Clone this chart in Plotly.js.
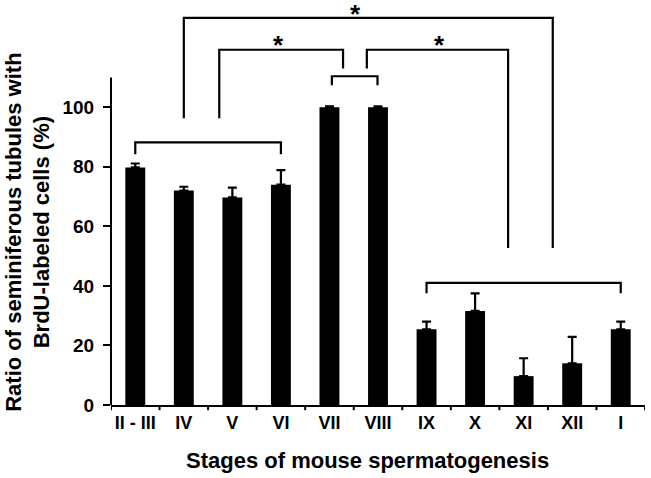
<!DOCTYPE html>
<html>
<head>
<meta charset="utf-8">
<script src="https://cdn.plot.ly/plotly-3.0.1.min.js"></script>
<style>
  html, body { margin: 0; padding: 0; background: #fff; }
  #chart { width: 651px; height: 478px; }
</style>
</head>
<body>
<div id="chart"></div>
<script>
"use strict"

// stages of the seminiferous epithelium cycle
let stages = ['II - III', 'IV', 'V', 'VI', 'VII', 'VIII', 'IX', 'X', 'XI', 'XII', 'I'];
// ratio of tubules with BrdU-labeled cells (%)
let ratio = [79.8, 72.0, 69.7, 74.0, 100, 100, 25.4, 31.6, 9.7, 14.0, 25.4];
// upper error (SEM)
let sem = [1.3, 1.3, 3.3, 4.9, 0.3, 0.3, 2.6, 5.9, 6.0, 8.9, 2.6];

// brackets: [x left, x right, top, left leg end, right leg end]
let brackets = [
	[0, 3, 88.2, 84.2, 84.2],
	[6, 10, 41, 37.5, 37.5],
	[4.05, 4.99, 110.4, 107.4, 107.4],
	[1.0, 8.6, 130, 96.3, 52.7],
	[1.73, 4.28, 119.3, 96.3, 113],
	[4.77, 7.68, 119.3, 113, 52.7]
];
// significance marks: [x, y]
let stars = [[4.53, 131.4], [2.95, 120.8], [6.26, 120.8]];

let fontFamily = 'Liberation Sans, Arial, sans-serif';

let trace = {
	type: 'bar',
	x: stages.map((s, i) => i),
	y: ratio,
	marker: {color: '#000', line: {width: 0}},
	width: 0.41,
	error_y: {
		type: 'data',
		symmetric: false,
		array: sem,
		arrayminus: sem.map(() => 0),
		color: '#000',
		thickness: 2.2,
		width: 4.5
	},
	hoverinfo: 'none'
};

let shapes = brackets.map(b => ({
	type: 'path',
	xref: 'x',
	yref: 'y',
	path: 'M' + b[0] + ',' + b[3] + ' L' + b[0] + ',' + b[2] + ' L' + b[1] + ',' + b[2] + ' L' + b[1] + ',' + b[4],
	line: {color: '#000', width: 2.2}
}));

// y axis line only up to 110
shapes.push({
	type: 'line',
	xref: 'paper', yref: 'y',
	x0: 0, x1: 0, y0: 0, y1: 110,
	line: {color: '#000', width: 2}
});

let annotations = stars.map(s => ({
	x: s[0], y: s[1], xref: 'x', yref: 'y',
	text: '*', showarrow: false,
	xanchor: 'center', yanchor: 'middle',
	font: {family: fontFamily, size: 26, weight: 'bold', color: '#000'}
}));

annotations.push({
	x: 0.48, y: -0.103, xref: 'paper', yref: 'paper',
	text: 'Stages of mouse spermatogenesis', showarrow: false,
	xanchor: 'center', yanchor: 'top',
	font: {family: fontFamily, size: 22, weight: 'bold', color: '#000'}
});

annotations.push({
	x: -0.157, y: 0.432, xref: 'paper', yref: 'paper',
	text: 'Ratio of seminiferous tubules with<br>BrdU-labeled cells (%)', showarrow: false,
	textangle: -90,
	xanchor: 'center', yanchor: 'middle',
	font: {family: fontFamily, size: 22, weight: 'bold', color: '#000'}
});

let layout = {
	width: 651,
	height: 478,
	margin: {l: 111, r: 6, t: 6, b: 73, pad: 0},
	paper_bgcolor: '#fff',
	plot_bgcolor: '#fff',
	showlegend: false,
	xaxis: {
		type: 'linear',
		range: [-0.5, 10.5],
		tickvals: stages.map((s, i) => i),
		ticktext: stages,
		showgrid: false,
		zeroline: false,
		showline: true,
		linecolor: '#000',
		linewidth: 2,
		ticks: '',
		tickfont: {family: fontFamily, size: 18, weight: 'bold', color: '#000'},
		fixedrange: true
	},
	yaxis: {
		range: [0, 134],
		tickvals: [0, 20, 40, 60, 80, 100],
		showgrid: false,
		zeroline: false,
		showline: false,
		ticks: 'outside',
		ticklen: 7,
		tickwidth: 2,
		tickcolor: '#000',
		ticklabelstandoff: 5,
		tickfont: {family: fontFamily, size: 19, weight: 'bold', color: '#000'},
		fixedrange: true
	},
	shapes: shapes,
	annotations: annotations
};

// boundary ticks on the x axis
for (let i = 0; i <= stages.length; i++) {
	layout.shapes.push({
		type: 'line',
		xref: 'x', yref: 'paper',
		x0: i - 0.5, x1: i - 0.5, y0: 0, y1: -0.013,
		line: {color: '#000', width: 2}
	});
}

Plotly.newPlot('chart', [trace], layout, {staticPlot: true});
</script>
</body>
</html>
